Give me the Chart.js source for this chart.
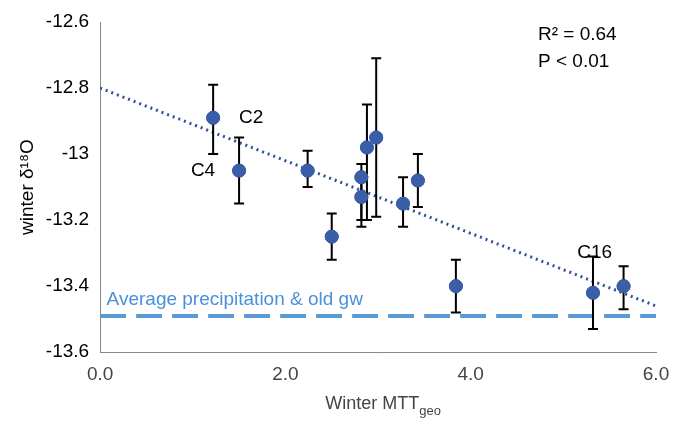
<!DOCTYPE html>
<html><head><script src="https://cdn.jsdelivr.net/npm/chart.js@4/dist/chart.umd.min.js"></script>
<style>body{margin:0;background:#fff}#w{width:678px;height:429px}</style></head>
<body><div id="w"><canvas id="c"></canvas></div>
<script>
const mttX=[1.22,1.5,2.24,2.5,2.82,2.82,2.88,2.98,3.27,3.43,3.84,5.32,5.65];
const d18O=[-12.89,-13.05,-13.05,-13.25,-13.07,-13.13,-12.98,-12.95,-13.15,-13.08,-13.40,-13.42,-13.40];
const errLo=[-13.00,-13.15,-13.10,-13.32,-13.22,-13.20,-13.20,-13.19,-13.22,-13.16,-13.48,-13.53,-13.47];
const errHi=[-12.79,-12.95,-12.99,-13.18,-13.03,-13.08,-12.85,-12.71,-13.07,-13.00,-13.32,-13.31,-13.34];
const trendX=[0,6], trendY=[-12.80,-13.46];
const avgPrecip=-13.49;
const labels=[{t:'C2',x:1.5,y:-12.89},{t:'C4',x:0.98,y:-13.05},{t:'C16',x:5.15,y:-13.30}];
const blue='#3a5ea8';
const plug={id:'p',afterDatasetsDraw(ch){const c=ch.ctx,xs=ch.scales.x,ys=ch.scales.y;
c.save();c.strokeStyle='#000';c.lineWidth=2;
mttX.forEach((x,i)=>{const px=xs.getPixelForValue(x),a=ys.getPixelForValue(errLo[i]),b=ys.getPixelForValue(errHi[i]);
c.beginPath();c.moveTo(px,a);c.lineTo(px,b);c.moveTo(px-5,a);c.lineTo(px+5,a);c.moveTo(px-5,b);c.lineTo(px+5,b);c.stroke();});
ch.getDatasetMeta(0).data.forEach(e=>e.draw(c));
c.fillStyle='#000';c.font='19px Liberation Sans, Arial';c.textAlign='left';c.textBaseline='middle';
labels.forEach(l=>c.fillText(l.t,xs.getPixelForValue(l.x),ys.getPixelForValue(l.y)));
c.fillText('R² = 0.64',ch.chartArea.right-118,ys.getPixelForValue(-12.64));
c.fillText('P < 0.01',ch.chartArea.right-118,ys.getPixelForValue(-12.72));
c.fillStyle='#4a90d9';c.fillText('Average precipitation & old gw',xs.getPixelForValue(0.07),ys.getPixelForValue(-13.44));
const cx=(ch.chartArea.left+ch.chartArea.right)/2;
c.fillStyle='#444';c.font='18px Liberation Sans, Arial';c.textAlign='left';
const t='Winter MTT',w=c.measureText(t).width;c.font='13px Liberation Sans, Arial';const w2=c.measureText('geo').width;
const sx=cx-(w+w2)/2+5,sy=ch.chartArea.bottom+52;
c.font='18px Liberation Sans, Arial';c.fillText(t,sx,sy);c.font='13px Liberation Sans, Arial';c.fillText('geo',sx+w,sy+7);
c.restore();}};
new Chart(document.getElementById('c'),{type:'scatter',
data:{datasets:[
{data:mttX.map((x,i)=>({x,y:d18O[i]})),backgroundColor:blue,borderColor:blue,pointRadius:6.5},
{type:'line',data:trendX.map((x,i)=>({x,y:trendY[i]})),borderColor:'#2f4f9a',borderWidth:3,borderDash:[2,4],pointRadius:0},
{type:'line',data:[{x:0,y:avgPrecip},{x:6,y:avgPrecip}],borderColor:'#5b9bd5',borderWidth:4,borderDash:[26,10],pointRadius:0}]},
plugins:[plug],
options:{animation:false,responsive:true,maintainAspectRatio:false,layout:{padding:{left:12,right:22,top:22,bottom:40}},
plugins:{legend:{display:false},tooltip:{enabled:false}},
scales:{x:{type:'linear',min:0,max:6,grid:{display:false},border:{color:'#888'},
ticks:{stepSize:2,color:'#444',font:{size:19,family:'Liberation Sans'},callback:v=>v.toFixed(1)},
title:{display:false}},
y:{min:-13.6,max:-12.6,grid:{display:false},border:{color:'#888'},
ticks:{stepSize:0.2,color:'#000',font:{size:19,family:'Liberation Sans'},callback:v=>{const r=Math.round(v*10)/10;return r===-13?'-13':r.toFixed(1)}},
title:{display:true,text:'winter δ¹⁸O',color:'#000',font:{size:19,family:'Liberation Sans'}}}}}});
</script></body></html>
